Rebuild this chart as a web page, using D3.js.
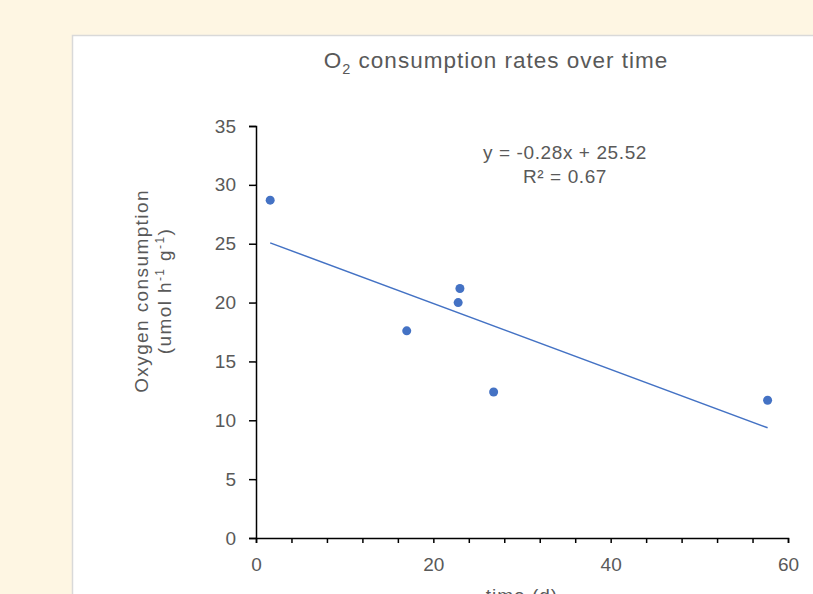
<!DOCTYPE html>
<html>
<head>
<meta charset="utf-8">
<script src="https://cdn.jsdelivr.net/npm/d3@7"></script>
<style>
  body { margin: 0; background: #fef6e3; }
  #chart svg { display: block; }
</style>
</head>
<body>
<div id="chart"></div>
<script>
// data
const days = [1.6, 17.0, 23.0, 22.8, 26.8, 57.7];
const oxygen = [28.7, 17.6, 21.2, 20.0, 12.4, 11.7];
const xTicks = [0, 20, 40, 60];
const yTicks = [0, 5, 10, 15, 20, 25, 30, 35];
const trendSlope = -0.28;
const trendIntercept = 25.52;
const rSquared = 0.67;

const width = 813, height = 594;
const fontFam = "'Liberation Sans', Arial, sans-serif";
const textCol = "#595959";
const dotCol = "#4472c4";

const svg = d3.select("#chart")
  .append("svg")
  .attr("width", width)
  .attr("height", height);

// chart panel
svg.append("rect")
  .attr("x", 72.5)
  .attr("y", 35.5)
  .attr("width", 900)
  .attr("height", 700)
  .attr("fill", "#fff")
  .attr("stroke", "#d9d9d9")
  .attr("stroke-width", 1.5);

// scales
const x = d3.scaleLinear().domain([0, 60]).range([256, 788]);
const y = d3.scaleLinear().domain([0, 35]).range([538, 126]);

// title
const title = svg.append("text")
  .attr("x", 496)
  .attr("y", 68)
  .attr("text-anchor", "middle")
  .style("font-family", fontFam)
  .style("font-size", "22.5px")
  .style("letter-spacing", "1px")
  .style("fill", textCol);
title.append("tspan").text("O");
title.append("tspan").attr("dy", 6).style("font-size", "14.5px").text("2");
title.append("tspan").attr("dy", -6).text(" consumption rates over time");

// x axis: labels every 20, ticks every 4
const xAxis = svg.append("g")
  .attr("transform", `translate(0,${y(0)})`)
  .call(d3.axisBottom(x)
    .tickValues(d3.range(0, 61, 4))
    .tickSize(5)
    .tickFormat(d => xTicks.includes(d) ? d : ""));
xAxis.select(".domain").attr("stroke", "#000").attr("stroke-width", 1.5);
xAxis.selectAll(".tick line").attr("stroke", "#000").attr("stroke-width", 1.5);
xAxis.selectAll(".tick text")
  .attr("dy", "0.71em")
  .attr("y", 20)
  .style("font-family", fontFam)
  .style("font-size", "19px")
  .style("fill", textCol);

// y axis
const yAxis = svg.append("g")
  .attr("transform", `translate(${x(0)},0)`)
  .call(d3.axisLeft(y)
    .tickValues(yTicks)
    .tickSize(7)
    .tickFormat(d => d));
yAxis.select(".domain").attr("stroke", "#000").attr("stroke-width", 1.5);
yAxis.selectAll(".tick line").attr("stroke", "#000").attr("stroke-width", 1.5);
yAxis.selectAll(".tick text")
  .attr("x", -20)
  .style("font-family", fontFam)
  .style("font-size", "19px")
  .style("fill", textCol);

// axis titles
const yTitle = svg.append("text")
  .attr("transform", `translate(148,291) rotate(-90)`)
  .attr("text-anchor", "middle")
  .style("font-family", fontFam)
  .style("font-size", "19px")
  .style("letter-spacing", "1.4px")
  .style("fill", textCol);
yTitle.append("tspan").attr("x", 0).attr("dy", 0).text("Oxygen consumption");
const line2 = yTitle.append("tspan").attr("x", 0).attr("dy", 23);
line2.append("tspan").text("(umol h");
line2.append("tspan").attr("dy", -7).style("font-size", "12px").text("-1");
line2.append("tspan").attr("dy", 7).text(" g");
line2.append("tspan").attr("dy", -7).style("font-size", "12px").text("-1");
line2.append("tspan").attr("dy", 7).text(")");

svg.append("text")
  .attr("x", 522)
  .attr("y", 602)
  .attr("text-anchor", "middle")
  .style("font-family", fontFam)
  .style("font-size", "19px")
  .style("letter-spacing", "1px")
  .style("fill", textCol)
  .text("time (d)");

// trendline
const xMin = d3.min(days), xMax = d3.max(days);
svg.append("line")
  .attr("x1", x(xMin))
  .attr("y1", y(trendSlope * xMin + trendIntercept))
  .attr("x2", x(xMax))
  .attr("y2", y(trendSlope * xMax + trendIntercept))
  .attr("stroke", dotCol)
  .attr("stroke-width", 1.5);

// points
svg.selectAll("circle.pt")
  .data(days.map((d, i) => ({ t: d, o: oxygen[i] })))
  .enter()
  .append("circle")
  .attr("class", "pt")
  .attr("cx", d => x(d.t))
  .attr("cy", d => y(d.o))
  .attr("r", 4.5)
  .style("fill", dotCol);

// equation label
const eq = svg.append("g")
  .style("font-family", fontFam)
  .style("font-size", "19px")
  .style("letter-spacing", "0.6px")
  .style("fill", textCol)
  .attr("text-anchor", "middle");
eq.append("text")
  .attr("x", 565)
  .attr("y", 159)
  .text(`y =  ${trendSlope.toFixed(2)}x + ${trendIntercept.toFixed(2)}`);
eq.append("text")
  .attr("x", 565)
  .attr("y", 183)
  .text(`R² = ${rSquared.toFixed(2)}`);
</script>
</body>
</html>
